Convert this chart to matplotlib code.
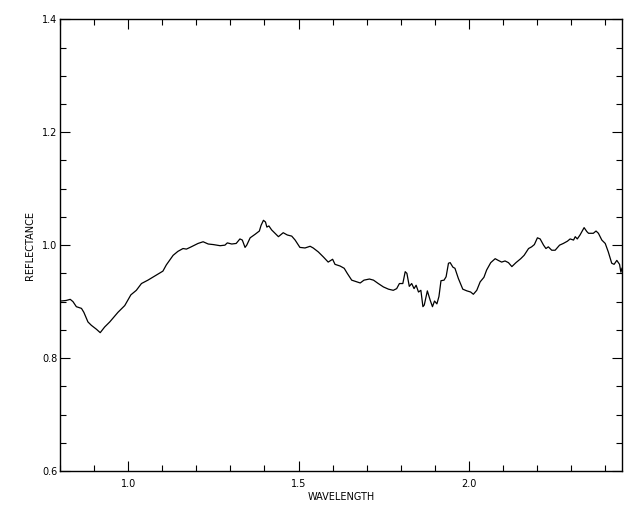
import matplotlib
matplotlib.use("Agg")
import matplotlib.pyplot as plt
from matplotlib.ticker import MultipleLocator, FixedLocator

wavelength = [
    0.802, 0.818, 0.830, 0.838, 0.848, 0.863, 0.870, 0.882, 0.892, 0.907,
    0.918, 0.931, 0.946, 0.970, 0.990, 1.008, 1.024, 1.039, 1.058, 1.083,
    1.102, 1.112, 1.132, 1.146, 1.161, 1.171, 1.185, 1.205, 1.220, 1.235,
    1.250, 1.270, 1.284, 1.291, 1.304, 1.317, 1.328, 1.335, 1.343, 1.348,
    1.358, 1.372, 1.385, 1.390, 1.397, 1.403, 1.407, 1.413, 1.421, 1.431,
    1.441, 1.455, 1.467, 1.480, 1.490, 1.504, 1.519, 1.534, 1.543, 1.558,
    1.573, 1.587, 1.600, 1.607, 1.622, 1.634, 1.643, 1.656, 1.671, 1.681,
    1.692, 1.708, 1.720, 1.734, 1.749, 1.764, 1.778, 1.788, 1.796, 1.806,
    1.813, 1.818, 1.825, 1.832, 1.839, 1.845, 1.852, 1.859, 1.865, 1.869,
    1.878, 1.886, 1.893, 1.899, 1.906, 1.912, 1.918, 1.927, 1.933, 1.940,
    1.945, 1.953, 1.959, 1.969, 1.982, 1.994, 2.005, 2.013, 2.023, 2.033,
    2.044, 2.052, 2.064, 2.077, 2.086, 2.096, 2.106, 2.116, 2.126, 2.138,
    2.152, 2.162, 2.175, 2.184, 2.192, 2.201, 2.209, 2.219, 2.226, 2.233,
    2.243, 2.253, 2.266, 2.277, 2.289, 2.297, 2.307, 2.312, 2.318, 2.326,
    2.338, 2.346, 2.351, 2.365, 2.373, 2.380, 2.390, 2.400, 2.409, 2.419,
    2.426, 2.434, 2.442, 2.446, 2.449,
]
reflectance = [
    0.901, 0.902, 0.904, 0.900, 0.891, 0.888, 0.881, 0.864, 0.858, 0.851,
    0.845, 0.855, 0.864, 0.881, 0.893, 0.912, 0.920, 0.932, 0.938, 0.947,
    0.954, 0.965, 0.982, 0.989, 0.994, 0.993, 0.997, 1.003, 1.006, 1.002,
    1.001, 0.999, 1.000, 1.004, 1.002, 1.003, 1.011, 1.009, 0.996, 1.000,
    1.013, 1.019, 1.025, 1.035, 1.044, 1.041, 1.032, 1.034, 1.027, 1.021,
    1.015, 1.022, 1.018, 1.016, 1.009, 0.996, 0.995, 0.998, 0.995, 0.988,
    0.979, 0.970, 0.975, 0.966, 0.963, 0.959, 0.950, 0.938, 0.935, 0.933,
    0.938, 0.940, 0.938, 0.932, 0.926, 0.922, 0.920, 0.923, 0.932, 0.932,
    0.953, 0.950, 0.927, 0.932, 0.923, 0.929, 0.917, 0.920, 0.891, 0.894,
    0.919, 0.903, 0.891, 0.901, 0.896, 0.909, 0.937, 0.938, 0.944, 0.968,
    0.969, 0.961, 0.959, 0.941, 0.922, 0.919, 0.917, 0.913, 0.920, 0.935,
    0.943, 0.956, 0.969, 0.976, 0.973, 0.970, 0.972, 0.969, 0.962, 0.969,
    0.976, 0.982, 0.994, 0.997, 1.001, 1.013, 1.011, 1.000, 0.994, 0.997,
    0.991, 0.991, 1.000, 1.003, 1.007, 1.011, 1.009, 1.015, 1.011, 1.018,
    1.031, 1.024, 1.021, 1.021, 1.025, 1.021, 1.009, 1.003, 0.988, 0.968,
    0.966, 0.973, 0.966, 0.952, 0.959,
]

x_major = [1.0, 1.5, 2.0]
x_major_labels = ["1.0", "1.5", "2.0"]
y_major = [0.6, 0.8, 1.0, 1.2, 1.4]
y_major_labels = ["0.6", "0.8", "1.0", "1.2", "1.4"]

plt.rcParams['font.family'] = ['DejaVu Sans']

fig = plt.figure(figsize=(6.4, 5.12), dpi=100)
ax = fig.add_axes([0.09375, 0.0801, 0.9723 - 0.09375, 0.9623 - 0.0801])

ax.plot(wavelength, reflectance, color='black', linewidth=0.9)

ax.set_xlim(0.8, 2.45)
ax.set_ylim(0.6, 1.4)

ax.xaxis.set_major_locator(FixedLocator(x_major))
ax.set_xticklabels(x_major_labels)
ax.xaxis.set_minor_locator(MultipleLocator(0.1))
ax.yaxis.set_major_locator(FixedLocator(y_major))
ax.set_yticklabels(y_major_labels)
ax.yaxis.set_minor_locator(MultipleLocator(0.05))

ax.tick_params(which='both', direction='in', top=True, right=True,
               width=0.8, color='black', labelsize=7)
ax.tick_params(which='major', length=7)
ax.tick_params(which='minor', length=4)
ax.tick_params(axis='x', which='major', pad=6)
ax.tick_params(axis='y', which='major', pad=2)

for s in ax.spines.values():
    s.set_linewidth(1.0)
    s.set_color('black')

ax.set_xlabel("WAVELENGTH", fontsize=7, labelpad=2)
ax.set_ylabel("REFLECTANCE", fontsize=7, labelpad=5)

fig.savefig("out.png", dpi=100)
